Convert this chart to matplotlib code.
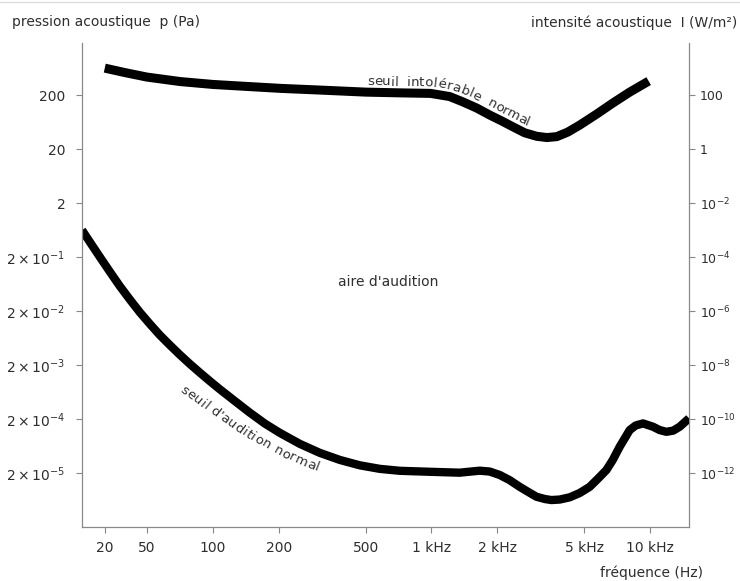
import numpy as np
import matplotlib
matplotlib.use('Agg')
import matplotlib.pyplot as plt
from matplotlib import font_manager
from matplotlib.ticker import NullLocator
from matplotlib.lines import Line2D

# seuil intolérable normal (courbe du haut) : fréquence (Hz), pression (Pa)
freq_haut = [20, 31, 50, 71, 100, 148, 205, 308, 500, 716, 990, 1210, 1390, 1610,
             1850, 2100, 2350, 2670, 3030, 3370, 3740, 4200, 4760, 5690, 6740, 8060, 9840]
p_haut = [632, 522, 431, 356, 315, 287, 266, 248, 227, 220, 215, 188, 150, 115,
          85, 66, 52, 40, 34.5, 32.7, 34.0, 41.3, 55.6, 88.9, 142, 227, 363]

# seuil d'audition normal (courbe du bas)
freq_bas = [12.2, 14.8, 18.0, 22.3, 27.7, 34.5, 42.8, 51.5, 57.2, 63.6, 70.7, 78.5,
            87.2, 96.9, 107.6, 126.1, 147.6, 172.9, 202.5, 249.8, 308.4, 380.7, 470,
            580, 716, 982, 1346, 1460, 1662, 1846, 2051, 2275, 2532, 2750, 3019,
            3300, 3534, 3860, 4285, 4760, 5289, 5750, 6305, 6740, 7254, 8060, 8585,
            9271, 10300, 11050, 11860, 12740, 13640, 15050]
p_bas = [0.632, 0.356, 0.200, 0.1076, 0.0581, 0.0327, 0.0190, 0.01159, 7.21e-3,
         4.69e-3, 3.10e-3, 2.10e-3, 1.45e-3, 1.01e-3, 7.13e-4, 4.31e-4, 2.63e-4,
         1.65e-4, 1.11e-4, 6.95e-5, 4.73e-5, 3.50e-5, 2.78e-5, 2.39e-5, 2.20e-5,
         2.11e-5, 2.03e-5, 2.10e-5, 2.21e-5, 2.13e-5, 1.84e-5, 1.48e-5, 1.11e-5,
         9.08e-6, 7.28e-6, 6.60e-6, 6.32e-6, 6.46e-6, 7.10e-6, 8.53e-6, 1.11e-5,
         1.55e-5, 2.27e-5, 3.48e-5, 6.14e-5, 1.25e-4, 1.52e-4, 1.66e-4, 1.44e-4,
         1.25e-4, 1.16e-4, 1.22e-4, 1.44e-4, 2.06e-4]

freq_ticks = [20, 50, 100, 200, 500, 1000, 2000, 5000, 10000]
freq_labels = ['20', '50', '100', '200', '500', '1 kHz', '2 kHz', '5 kHz', '10 kHz']
p_ticks = [200, 20, 2, 2e-1, 2e-2, 2e-3, 2e-4, 2e-5]
p_labels = ['200', '20', '2'] + [r'$\mathregular{2\times10^{-%d}}$' % k for k in range(1, 6)]
i_ticks = [1e2, 1, 1e-2, 1e-4, 1e-6, 1e-8, 1e-10, 1e-12]
i_labels = ['100', '1'] + [r'$\mathregular{10^{-%d}}$' % k for k in range(2, 13, 2)]

gris = '#2e2e2e'
trait = '#888888'
plt.rcParams['font.family'] = 'DejaVu Sans'
plt.rcParams['font.size'] = 10

# axe des fréquences : logarithmique au-dessus de 50 Hz, tassé en dessous (comme sur le livre)
L50 = np.log10(50)
K = 0.485

def fwd(f):
    lf = np.log10(np.clip(f, 1e-3, None))
    return np.where(lf >= L50, lf, L50 - K * (L50 - lf))

def inv(u):
    u = np.asarray(u, dtype=float)
    return np.where(u >= L50, 10.0 ** u, 10.0 ** (L50 - (L50 - u) / K))

def p_vers_i(p):
    return np.asarray(p) ** 2 / 400.0

def i_vers_p(i):
    return np.sqrt(np.abs(np.asarray(i)) * 400.0)

fig = plt.figure(figsize=(7.4, 5.81), dpi=100)
ax = fig.add_axes([0.1108, 0.0929, 0.8203, 0.8330])
ax.set_xscale('function', functions=(fwd, inv))
ax.set_yscale('log')
ax.set_xlim(12.2, 15050)
ax.set_ylim(2e-6, 1840)

ax.plot(freq_haut, p_haut, color='black', lw=6.5, solid_capstyle='butt', solid_joinstyle='round')
ax.plot(freq_bas, p_bas, color='black', lw=6.0, solid_capstyle='butt', solid_joinstyle='round')

ax.set_xticks(freq_ticks, freq_labels)
ax.set_yticks(p_ticks, p_labels)
ax.xaxis.set_minor_locator(NullLocator())
ax.yaxis.set_minor_locator(NullLocator())
ax.tick_params(direction='out', length=4, width=0.8, color=trait, labelcolor=gris, labelsize=10)
ax.tick_params(axis='y', pad=8)
ax.tick_params(axis='x', pad=6)
for side in ['top', 'right']:
    ax.spines[side].set_visible(False)
for side in ['left', 'bottom']:
    ax.spines[side].set_color(trait)
    ax.spines[side].set_linewidth(0.9)

sec = ax.secondary_yaxis('right', functions=(p_vers_i, i_vers_p))
sec.set_yticks(i_ticks, i_labels)
sec.yaxis.set_minor_locator(NullLocator())
sec.tick_params(direction='out', length=4, width=0.8, color=trait, labelcolor=gris, labelsize=9, pad=4)
sec.spines['right'].set_color(trait)
sec.spines['right'].set_linewidth(0.9)

fig.text(12 / 740, 1 - 22 / 581, 'pression acoustique  p (Pa)', ha='left', va='center', color=gris)
fig.text(737 / 740, 1 - 23 / 581, 'intensité acoustique  I (W/m²)', ha='right', va='center', color=gris)
fig.text(703 / 740, 1 - 573 / 581, 'fréquence (Hz)', ha='right', va='center', color=gris)
ax.text(0.504, 0.506, "aire d'audition", transform=ax.transAxes, ha='center', va='center', color=gris)
fig.add_artist(Line2D([0, 1], [0.996, 0.996], color='#dddddd', lw=1))

fig.canvas.draw()
renderer = fig.canvas.get_renderer()


# texte qui suit une courbe, lettre par lettre
def texte_courbe(fx, py, texte, debut, decal, taille=9.5):
    pts = ax.transData.transform(np.column_stack([fx, py]))
    s = np.concatenate([[0], np.cumsum(np.hypot(np.diff(pts[:, 0]), np.diff(pts[:, 1])))])
    x0 = ax.transData.transform((debut, 1))[0]
    pos0 = np.interp(x0, pts[:, 0], s)
    prop = font_manager.FontProperties(family='DejaVu Sans', size=taille)
    bar = renderer.get_text_width_height_descent('|', prop, ismath=False)[0]
    bords = [0.0]
    for n in range(1, len(texte) + 1):
        w = renderer.get_text_width_height_descent(texte[:n] + '|', prop, ismath=False)[0]
        bords.append(w - bar)
    offs = np.linspace(decal[0], decal[1], len(texte))
    for n, ch in enumerate(texte):
        if ch == ' ':
            continue
        c = pos0 + (bords[n] + bords[n + 1]) / 2
        x = np.interp(c, s, pts[:, 0])
        y = np.interp(c, s, pts[:, 1])
        xa, ya = np.interp(c - 8, s, pts[:, 0]), np.interp(c - 8, s, pts[:, 1])
        xb, yb = np.interp(c + 8, s, pts[:, 0]), np.interp(c + 8, s, pts[:, 1])
        ang = np.arctan2(yb - ya, xb - xa)
        xd = x - offs[n] * np.sin(ang)
        yd = y + offs[n] * np.cos(ang)
        xdat, ydat = ax.transData.inverted().transform((xd, yd))
        ax.text(xdat, ydat, ch, rotation=np.degrees(ang), rotation_mode='anchor',
                ha='center', va='baseline', fontsize=taille, color=gris)


texte_courbe(freq_haut, p_haut, 'seuil  intolérable  normal', 506, (7, 7))
texte_courbe(freq_bas, p_bas, "seuil d'audition normal", 85, (-27, -18))

fig.savefig('out.png', dpi=100)
